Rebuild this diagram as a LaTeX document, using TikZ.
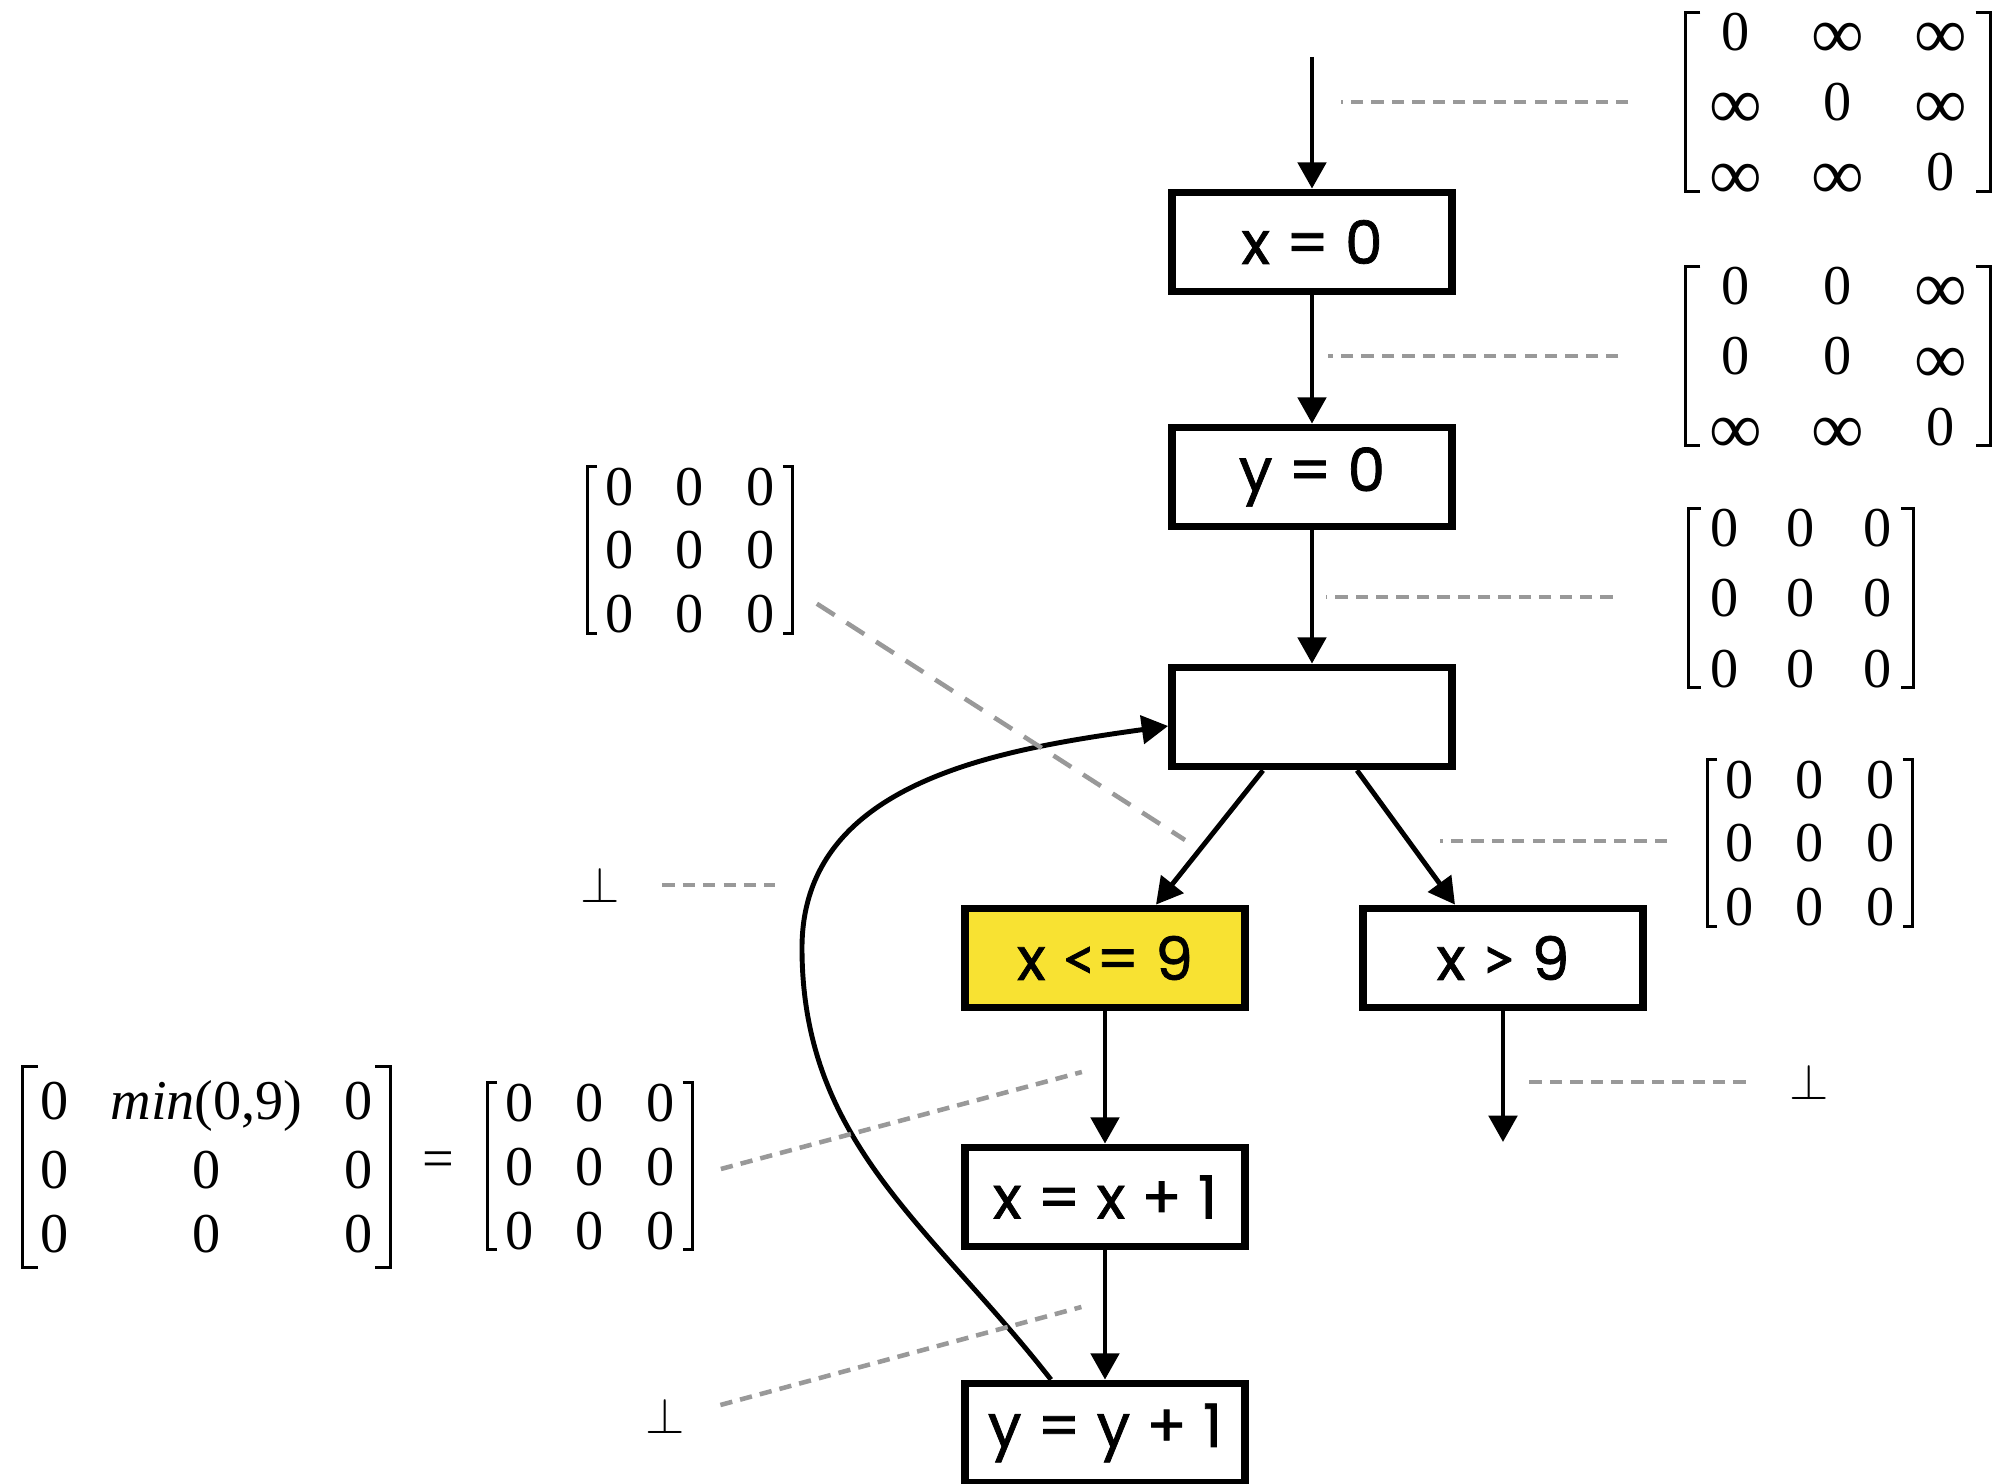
\documentclass[tikz,border=0pt]{standalone}
\usepackage{amsmath}
\usepackage{amssymb}
\usepackage{fontspec}
\setmainfont{Liberation Serif}
\newfontfamily\cfgfont[FakeBold=1.2]{Poppins}
\newfontfamily\relfont[FakeBold=1.2]{Lato}
\usepackage{tikz}
\usetikzlibrary{arrows.meta, calc, positioning, matrix}

\definecolor{condyellow}{RGB}{248,226,50}

% square brackets round a matrix node
\newcommand{\brackets}[2][0.12cm]{%
  \draw[brk] ([xshift=#1]#2.north west) -- (#2.north west) -- (#2.south west) -- ([xshift=#1]#2.south west);
  \draw[brk] ([xshift=-#1]#2.north east) -- (#2.north east) -- (#2.south east) -- ([xshift=-#1]#2.south east);}
\newcommand{\infy}{\raisebox{-0.08cm}{\fontsize{21}{21}\selectfont ∞}}

\begin{document}
\begin{tikzpicture}[
  blk/.style={draw, line width=2.2pt, minimum width=2.80cm, minimum height=0.99cm, inner sep=0pt, font=\cfgfont\fontsize{17}{20}\selectfont},
  flow/.style={line width=1.4pt, -{Triangle[length=7.5pt,width=8pt]}},
  lead/.style={gray!80, line width=1.3pt, dash pattern=on 3.5pt off 2.3pt},
  brk/.style={line width=0.9pt, line join=miter},
  mcell/.style={inner sep=0pt, text height=0.38cm, text depth=0pt, font=\fontsize{16}{18}\selectfont},
  dmat/.style={matrix of nodes, inner xsep=#1, inner ysep=0pt, nodes={mcell}},
  dmat/.default=0.18cm
]
\useasboundingbox (0,0) rectangle (19.96,-14.84);

% the program
\node[blk] (x0) at (13.12,-2.42) {x = 0};
\node[blk] (y0) at (13.12,-4.77) {y = 0};
\node[blk] (join) at (13.12,-7.17) {};
\node[blk, fill=condyellow] (le) at (11.05,-9.58) {x {\relfont <}= 9};
\node[blk] (gt) at (15.03,-9.58) {x {\relfont >} 9};
\node[blk] (incx) at (11.05,-11.97) {x = x + 1};
\node[blk] (incy) at (11.05,-14.33) {y = y + 1};

\coordinate (entry) at (13.12,-0.57);
\coordinate (exit) at (15.03,-11.42);
\coordinate (loop) at (8.02,-9.48);

\draw[flow] (entry) -- (x0);
\draw[flow] (x0) -- (y0);
\draw[flow] (y0) -- (join);
\draw[flow] ([xshift=-0.49cm]join.south) -- ([xshift=0.51cm]le.north);
\draw[flow] ([xshift=0.45cm]join.south) -- ([xshift=-0.48cm]gt.north);
\draw[flow] (gt) -- (exit);
\draw[flow] (le) -- (incx);
\draw[flow] (incx) -- (incy);
\draw[flow] ([xshift=-0.54cm]incy.north) to[out=128,in=-90] (loop) to[out=90,in=188] ([yshift=-0.09cm]join.west);

% the matrices
\matrix (m1) [dmat=0.23cm, column sep=0.5cm, row sep=0.32cm, nodes={minimum width=0.5cm}] at (18.38,-1.02) {
  0 & \infy & \infy \\ \infy & 0 & \infy \\ \infy & \infy & 0 \\};
\matrix (m2) [dmat=0.23cm, column sep=0.5cm, row sep=0.32cm, nodes={minimum width=0.5cm}] at (18.38,-3.56) {
  0 & 0 & \infy \\ 0 & 0 & \infy \\ \infy & \infy & 0 \\};
\matrix (m3) [dmat=0.215cm, column sep=0.48cm, row sep=0.32cm, nodes={minimum width=0.28cm}] at (18.01,-5.98) {
  0 & 0 & 0 \\ 0 & 0 & 0 \\ 0 & 0 & 0 \\};
\matrix (m4) [dmat, column sep=0.42cm, row sep=0.26cm, nodes={minimum width=0.28cm}] at (6.90,-5.50) {
  0 & 0 & 0 \\ 0 & 0 & 0 \\ 0 & 0 & 0 \\};
\matrix (m5) [dmat, column sep=0.42cm, row sep=0.26cm, nodes={minimum width=0.28cm}] at (18.10,-8.43) {
  0 & 0 & 0 \\ 0 & 0 & 0 \\ 0 & 0 & 0 \\};
\matrix (mbig) [dmat=0.17cm, inner ysep=0.14cm, column sep=0.42cm, row sep=0.26cm, nodes={minimum width=0.28cm}] at (2.065,-11.67) {
  0 & \textit{min}(0,9) & 0 \\[0.06cm] 0 & 0 & 0 \\ 0 & 0 & 0 \\};
\matrix (mres) [dmat, column sep=0.42cm, row sep=0.26cm, nodes={minimum width=0.28cm}] at (5.90,-11.66) {
  0 & 0 & 0 \\ 0 & 0 & 0 \\ 0 & 0 & 0 \\};
\node[font=\fontsize{16}{18}\selectfont] (eq) at (4.38,-11.65) {=};

\brackets[0.15cm]{m1}
\brackets[0.15cm]{m2}
\brackets{m3}
\brackets[0.1cm]{m4}
\brackets[0.1cm]{m5}
\brackets[0.15cm]{mbig}
\brackets[0.1cm]{mres}

\node[inner sep=0pt, font=\fontsize{14}{16}\selectfont] (bot1) at (6.00,-8.85) {$\bot$};
\node[inner sep=0pt, font=\fontsize{14}{16}\selectfont] (bot2) at (18.09,-10.82) {$\bot$};
\node[inner sep=0pt, font=\fontsize{14}{16}\selectfont] (bot3) at (6.65,-14.16) {$\bot$};

% leader lines
\draw[lead] ([xshift=-0.57cm]m1.west) -- +(-2.87,0);
\draw[lead] ([xshift=-0.67cm]m2.west) -- +(-2.90,0);
\draw[lead] ([shift={(-0.76,0.01)}]m3.west) -- +(-2.87,0);
\draw[lead, dash pattern=on 6pt off 4pt] ([shift={(0.24,0.30)}]m4.south east) -- (11.85,-8.40);
\draw[lead] ([xshift=0.42cm]bot1.east) -- +(1.13,0);
\draw[lead] ([shift={(-0.40,0.02)}]m5.west) -- +(-2.27,0);
\draw[lead] ([xshift=-0.43cm]bot2.west) -- +(-2.23,0);
\draw[lead] ([shift={(0.28,-0.03)}]mres.east) -- +(3.61,0.97);
\draw[lead] ([shift={(0.35,0.11)}]bot3.east) -- +(3.61,0.98);
\end{tikzpicture}
\end{document}
